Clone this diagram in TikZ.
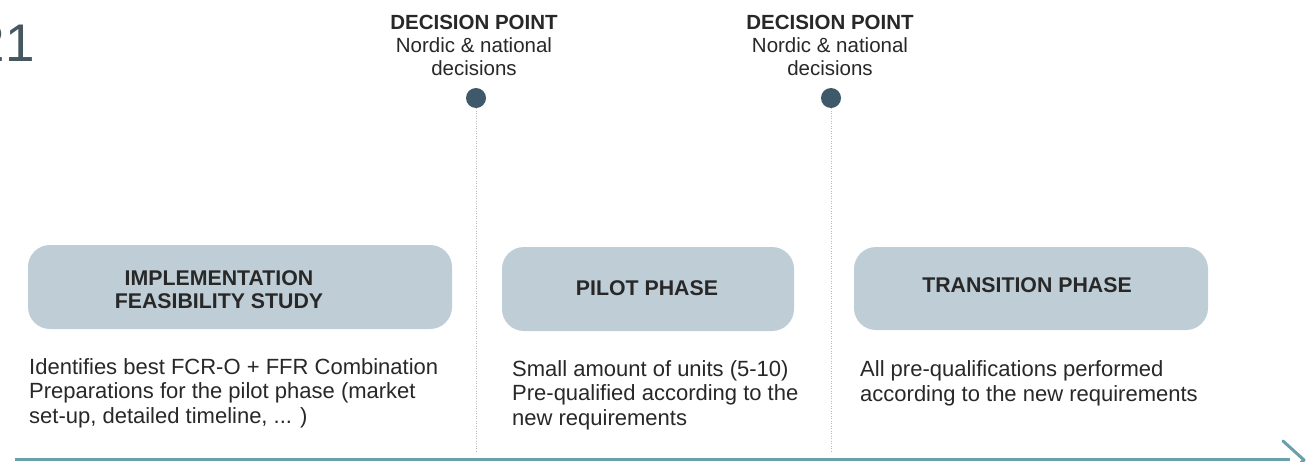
\documentclass[tikz,border=0pt]{standalone}
\usepackage{fontspec}
\setmainfont{Liberation Sans}
\definecolor{boxfill}{RGB}{191,205,214}
\definecolor{dotcol}{RGB}{61,89,106}
\definecolor{axiscol}{RGB}{106,160,172}
\definecolor{numcol}{RGB}{70,87,96}
\definecolor{txtcol}{RGB}{40,40,40}
\definecolor{vlinecol}{RGB}{185,185,185}
\begin{document}
\begin{tikzpicture}[x=1pt,y=-1pt,
  phasebox/.style={draw=none,fill=boxfill,rounded corners=22pt,inner sep=0pt},
  titletext/.style={font=\fontsize{21.3}{23}\selectfont\bfseries,text=txtcol,align=center,inner sep=0pt,anchor=base},
  desctext/.style={font=\fontsize{22}{24.3}\selectfont,text=txtcol,align=left,inner sep=0pt,anchor=base west},
  dectext/.style={font=\fontsize{20.5}{23}\selectfont,text=txtcol,align=center,inner sep=0pt,anchor=base},
  decdot/.style={circle,fill=dotcol,minimum size=20pt,inner sep=0pt},
  vline/.style={draw=vlinecol,line width=0.8pt,dash pattern=on 1pt off 1.5pt},
  axisline/.style={draw=axiscol,line width=3pt},
]
\useasboundingbox (0,0) rectangle (1314,461);
\fill[white] (0,0) rectangle (1314,461);

% page number fragment
\node[font=\fontsize{53}{53}\selectfont,text=numcol,anchor=base east,inner sep=0pt] (num) at (35,61) {21};

% phase boxes
\path[phasebox] (28,245) rectangle (452,329);
\node[inner sep=0pt,minimum width=424pt,minimum height=84pt] (box1) at (240,287) {};
\path[phasebox] (502,247) rectangle (794,331);
\node[inner sep=0pt,minimum width=292pt,minimum height=84pt] (box2) at (648,289) {};
\path[phasebox] (854,247) rectangle (1208,330);
\node[inner sep=0pt,minimum width=354pt,minimum height=83pt] (box3) at (1031,288.5) {};

% titles (anchor = baseline of last line)
\node[titletext] (t1) at (219,308) {IMPLEMENTATION\\FEASIBILITY STUDY};
\node[titletext] (t2) at (647,295) {PILOT PHASE};
\node[titletext] (t3) at (1027,292) {TRANSITION PHASE};

% descriptions (anchor = baseline of last line)
\node[desctext] (d1) at (29,423) {Identifies best FCR-O + FFR Combination\\Preparations for the pilot phase (market\\set-up, detailed timeline, ... )};
\node[desctext] (d2) at (512,425) {Small amount of units (5-10)\\Pre-qualified according to the\\new requirements};
\node[desctext] (d3) at (860,401) {All pre-qualifications performed\\according to the new requirements};

% decision points
\node[dectext] (dp1) at (474,75) {\textbf{DECISION POINT}\\Nordic \& national\\decisions};
\node[dectext] (dp2) at (830,75) {\textbf{DECISION POINT}\\Nordic \& national\\decisions};
\node[decdot] (dot1) at (476,98) {};
\node[decdot] (dot2) at (831,98) {};
\coordinate (v1e) at (476,452);
\coordinate (v2e) at (831,452);
\draw[vline] (dot1.south) -- (v1e);
\draw[vline] (dot2.south) -- (v2e);

% time axis
\coordinate (axs) at (15,459.5);
\coordinate (axe) at (1290,459.5);
\coordinate (chu) at (1283,441);
\coordinate (cht) at (1304,460);
\coordinate (chl) at (1283,479);
\draw[axisline] (axs) -- (axe);
\draw[axisline,line cap=round,line join=round] (chu) -- (cht) -- (chl);
\end{tikzpicture}
\end{document}
